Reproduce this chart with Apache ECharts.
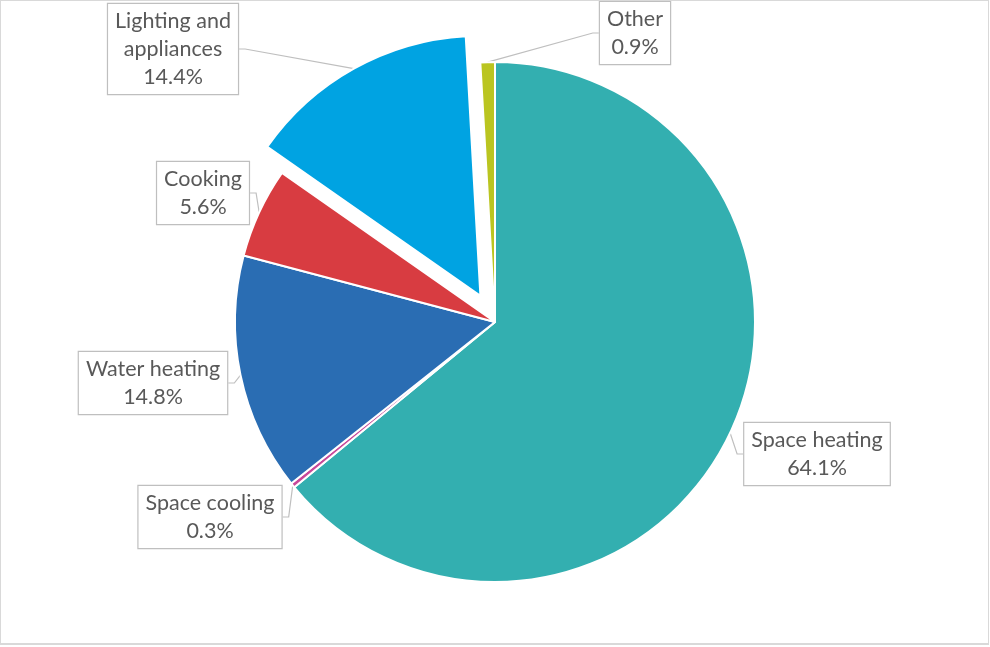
<!DOCTYPE html>
<html>
<head>
<meta charset="utf-8">
<script src="https://cdn.jsdelivr.net/npm/echarts@6/dist/echarts.min.js"></script>
<style>
  html, body { margin: 0; padding: 0; background: #fff; }
  #frame { position: absolute; left: 0; top: 0; width: 987px; height: 642px; border: 1px solid #d9d9d9; border-bottom-width: 2px; }
  #chart { width: 987px; height: 642px; }
</style>
</head>
<body>
<div id="frame"><div id="chart"></div></div>
<script>
// Residential energy end-use shares (%)
const categories = ['Space heating', 'Space cooling', 'Water heating', 'Cooking', 'Lighting and\nappliances', 'Other'];
const shares = [64.1, 0.3, 14.8, 5.6, 14.4, 0.9];
const colors = ['#33afb0', '#c8489a', '#2a6db3', '#d83c41', '#00a3e2', '#bac520'];
const explodedIndex = 4;

// Callout box centres (px) for each slice label
const labelCentres = [[816, 453], [209, 516], [152, 382], [202, 192], [172, 48], [634, 32]];

const pieCenter = [494, 321];
const pieRadius = 260;
const explodeDistance = 30;

// Pull the exploded slice outward along its bisector
const total = shares.reduce((a, b) => a + b, 0);
const before = shares.slice(0, explodedIndex).reduce((a, b) => a + b, 0);
const midAngle = (before + shares[explodedIndex] / 2) / total * 2 * Math.PI;
const explodedCenter = [
  pieCenter[0] + explodeDistance * Math.sin(midAngle),
  pieCenter[1] - explodeDistance * Math.cos(midAngle)
];

const labelStyle = {
  show: true,
  position: 'outside',
  formatter: p => p.name + '\n' + p.value.toFixed(1) + '%',
  fontFamily: 'Lato',
  fontSize: 21.5,
  lineHeight: 28,
  color: '#595959',
  align: 'center',
  backgroundColor: '#ffffff',
  borderColor: '#bfbfbf',
  borderWidth: 1.2,
  padding: [3, 7, 3, 7]
};
const labelLineStyle = {
  show: true,
  length: 6,
  length2: 6,
  lineStyle: { color: '#bfbfbf', width: 1.2 }
};

function buildSeries(center, visible) {
  return {
    type: 'pie',
    center: center,
    radius: pieRadius,
    startAngle: 90,
    clockwise: true,
    avoidLabelOverlap: false,
    selectedMode: false,
    itemStyle: { borderColor: '#ffffff', borderWidth: 2 },
    emphasis: { disabled: true },
    label: labelStyle,
    labelLine: labelLineStyle,
    labelLayout: params => {
      const c = labelCentres[params.dataIndex];
      return { x: c[0], y: c[1], align: 'center', verticalAlign: 'middle' };
    },
    data: categories.map((name, i) => {
      const show = visible(i);
      return {
        name: name,
        value: shares[i],
        itemStyle: show ? { color: colors[i] } : { color: 'rgba(0,0,0,0)', borderWidth: 0 },
        label: { show: show },
        labelLine: { show: show }
      };
    })
  };
}

const chart = echarts.init(document.getElementById('chart'), null, { renderer: 'canvas' });

chart.setOption({
  animation: false,
  backgroundColor: '#ffffff',
  series: [
    buildSeries(pieCenter, i => i !== explodedIndex),
    buildSeries(explodedCenter, i => i === explodedIndex)
  ]
});
</script>
</body>
</html>
